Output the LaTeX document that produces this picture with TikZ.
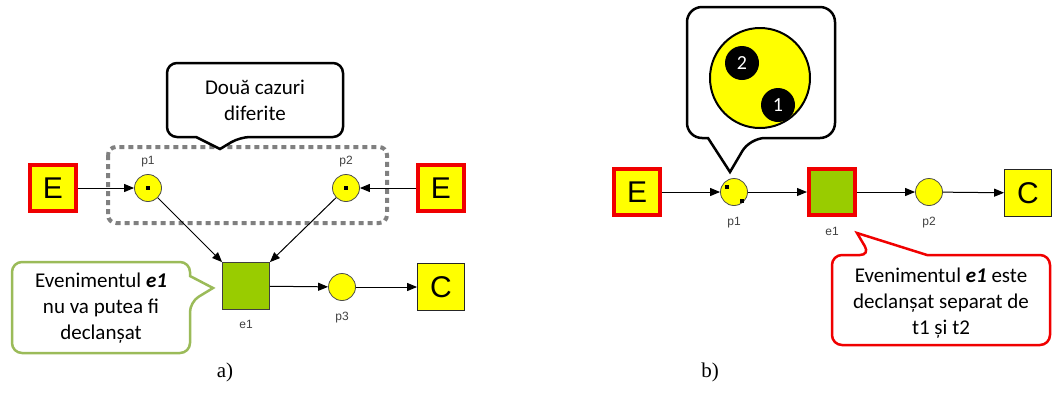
\documentclass[tikz,border=0pt]{standalone}
\usepackage{fontspec}
\setmainfont{Liberation Serif}
\newfontfamily\calibri{Carlito}
\newfontfamily\arial{Liberation Sans}
\usetikzlibrary{arrows.meta, positioning}

\definecolor{tokyellow}{RGB}{255,255,0}
\definecolor{evgreen}{RGB}{153,204,0}
\definecolor{boxred}{RGB}{240,0,0}
\definecolor{notegreen}{RGB}{155,187,89}
\definecolor{dotgray}{RGB}{128,128,128}

\begin{document}
\begin{tikzpicture}[x=1pt, y=-1pt,
    ext/.style={draw=boxred, line width=4pt, fill=tokyellow, minimum size=46pt, inner sep=0pt, font=\arial\fontsize{30}{30}\selectfont},
    sink/.style={draw=black!85, line width=0.8pt, fill=tokyellow, minimum size=47pt, inner sep=0pt, font=\arial\fontsize{30}{30}\selectfont},
    place/.style={circle, draw=black!70, line width=0.8pt, fill=tokyellow, minimum size=27pt, inner sep=0pt},
    event/.style={draw=black!75, line width=0.8pt, fill=evgreen, minimum size=47pt, inner sep=0pt},
    token/.style={fill=black, minimum size=4pt, inner sep=0pt},
    tag/.style={font=\arial\fontsize{12}{12}\selectfont, text=black!75},
    arc/.style={-{Triangle[length=10pt, width=8pt]}, line width=1pt},
    note/.style={line width=2.5pt, fill=white},
    notetext/.style={align=center, font=\calibri\fontsize{21}{26}\selectfont},
    caption/.style={font=\fontsize{21}{21}\selectfont}
]
\useasboundingbox (0,0) rectangle (1053,392);

% a) doua locuri de intrare
\draw[dotgray, line width=4pt, dash pattern=on 5pt off 4pt, rounded corners=8pt] (108,147) rectangle (387,223);

\node[ext] (ea) at (53,188) {E};
\node[place] (p1a) at (148,188) {};
\node[token] (t1a) at (p1a) {};
\node[tag, above=4pt of p1a] (p1alab) {p1};
\node[place] (p2a) at (346,188) {};
\node[token] (t2a) at (p2a) {};
\node[tag, above=4pt of p2a] (p2alab) {p2};
\node[ext] (eb) at (441,188) {E};
\node[event] (e1a) at (246,286) {};
\node[tag, below=7pt of e1a] (e1alab) {e1};
\node[place] (p3a) at (342,287) {};
\node[tag, below=8pt of p3a] (p3alab) {p3};
\node[sink] (ca) at (441,287) {C};

\draw[arc] (ea) -- (p1a);
\draw[arc] (eb) -- (p2a);
\draw[arc] (p1a) -- (e1a.north west);
\draw[arc] (p2a) -- (e1a.north east);
\draw[arc] (e1a) -- (p3a);
\draw[arc] (p3a) -- (ca);

\draw[note, draw=black] (220,149) -- (196,137) [rounded corners=10pt] -- (167,137) -- (167,63) -- (343,63) -- (343,137) -- (240,137) [sharp corners] -- cycle;
\node[notetext] (notea) at (255,100) {Două cazuri\\diferite};

\draw[note, draw=notegreen] (213,288) -- (190,276) [rounded corners=10pt] -- (190,262) -- (12,262) -- (12,353) -- (190,353) -- (190,302) [sharp corners] -- cycle;
\node[notetext] (noteb) at (101,308) {Evenimentul \textbf{\textit{e1}}\\nu va putea fi\\declanșat};

\node[caption] (capa) at (225,372) {a)};

% b) un singur loc cu doua jetoane
\node[ext] (ec) at (637,192) {E};
\node[place] (p1b) at (734,192) {};
\node[token] (t1b) at ([shift={(-7,-5)}]p1b) {};
\node[token] (t2b) at ([shift={(8,9)}]p1b) {};
\node[tag, below=8pt of p1b] (p1blab) {p1};
\node[event, draw=boxred, line width=4pt, minimum size=46pt] (e1b) at (832,192) {};
\node[tag, below=7pt of e1b] (e1blab) {e1};
\node[place] (p2b) at (929,192) {};
\node[tag, below=8pt of p2b] (p2blab) {p2};
\node[sink] (cb) at (1028,193) {C};

\draw[arc] (ec) -- (p1b);
\draw[arc] (p1b) -- (e1b);
\draw[arc] (e1b) -- (p2b);
\draw[arc] (p2b) -- (cb);

\draw[note, draw=black] (730,172) -- (708,138) [rounded corners=15pt] -- (687,138) -- (687,7) -- (835,7) -- (835,138) -- (750,138) [sharp corners] -- cycle;
\node[circle, draw, line width=2pt, fill=tokyellow, minimum size=100pt, inner sep=0pt] (zoomp) at (760,78) {};
\node[circle, fill=black, text=white, minimum size=34pt, inner sep=0pt, font=\calibri\fontsize{20}{20}\selectfont] (tok2) at (742,63) {2};
\node[circle, fill=black, text=white, minimum size=34pt, inner sep=0pt, font=\calibri\fontsize{20}{20}\selectfont] (tok1) at (778,105) {1};

\draw[note, draw=boxred] (857,233) -- (927,255) [rounded corners=10pt] -- (1050,255) -- (1050,345) -- (832,345) -- (832,255) -- (870,255) [sharp corners] -- cycle;
\node[notetext] (notec) at (941,303) {Evenimentul \textbf{\textit{e1}} este\\declanșat separat de\\t1 și t2};

\node[caption] (capb) at (710,372) {b)};
\end{tikzpicture}
\end{document}
